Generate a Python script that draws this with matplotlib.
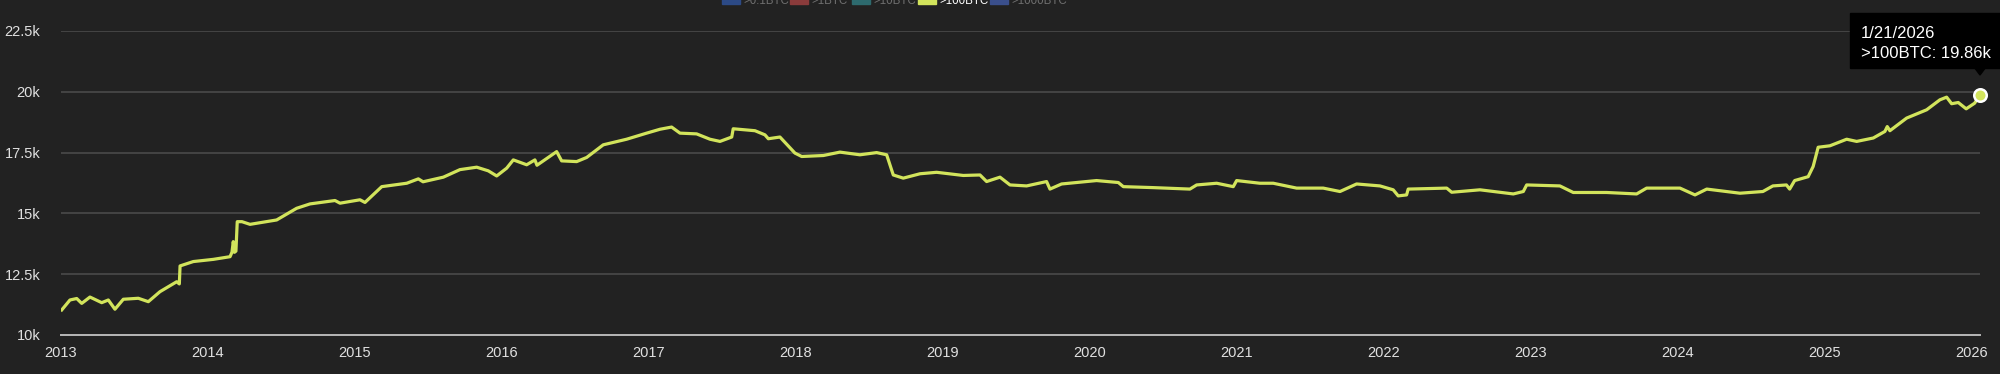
import matplotlib
matplotlib.use("Agg")
import matplotlib.pyplot as plt
from matplotlib.patches import Rectangle, Polygon
from matplotlib.ticker import FuncFormatter

plt.rcParams['font.family'] = ['Liberation Sans', 'DejaVu Sans']

# decimal year / number of addresses holding >100 BTC (thousands)
years = [2013.005, 2013.061, 2013.107, 2013.141, 2013.197, 2013.277, 2013.322, 2013.367,
         2013.424, 2013.526, 2013.594, 2013.673, 2013.787, 2013.805, 2013.810, 2013.900,
         2014.036, 2014.150, 2014.163, 2014.172, 2014.180, 2014.190, 2014.199, 2014.231,
         2014.286, 2014.467, 2014.603, 2014.694, 2014.864, 2014.898, 2015.034, 2015.068,
         2015.182, 2015.352, 2015.431, 2015.463, 2015.601, 2015.714, 2015.828, 2015.907,
         2015.964, 2016.032, 2016.077, 2016.168, 2016.224, 2016.238, 2016.372, 2016.406,
         2016.508, 2016.576, 2016.689, 2016.848, 2016.984, 2017.075, 2017.154, 2017.211,
         2017.324, 2017.415, 2017.483, 2017.563, 2017.573, 2017.721, 2017.789, 2017.812,
         2017.891, 2017.993, 2018.039, 2018.186, 2018.299, 2018.435, 2018.549, 2018.617,
         2018.662, 2018.730, 2018.844, 2018.957, 2019.138, 2019.252, 2019.297, 2019.388,
         2019.456, 2019.569, 2019.705, 2019.728, 2019.807, 2020.045, 2020.193, 2020.227,
         2020.431, 2020.680, 2020.726, 2020.862, 2020.975, 2020.998, 2021.156, 2021.247,
         2021.406, 2021.587, 2021.701, 2021.814, 2021.973, 2022.063, 2022.097, 2022.154,
         2022.165, 2022.427, 2022.461, 2022.653, 2022.880, 2022.948, 2022.971, 2023.197,
         2023.288, 2023.515, 2023.719, 2023.787, 2024.014, 2024.116, 2024.196, 2024.422,
         2024.578, 2024.646, 2024.738, 2024.760, 2024.794, 2024.886, 2024.920, 2024.954,
         2025.034, 2025.148, 2025.216, 2025.329, 2025.408, 2025.424, 2025.442, 2025.556,
         2025.692, 2025.782, 2025.828, 2025.862, 2025.907, 2025.961, 2026.018, 2026.055]
holders_k = [11.03, 11.44, 11.50, 11.30, 11.56, 11.33, 11.44, 11.06,
             11.47, 11.51, 11.37, 11.78, 12.19, 12.10, 12.84, 13.02,
             13.11, 13.22, 13.40, 13.84, 13.40, 13.45, 14.66, 14.66,
             14.55, 14.73, 15.21, 15.39, 15.53, 15.42, 15.56, 15.45,
             16.10, 16.24, 16.42, 16.30, 16.49, 16.80, 16.90, 16.75,
             16.54, 16.86, 17.20, 17.00, 17.20, 16.98, 17.54, 17.16,
             17.13, 17.30, 17.82, 18.05, 18.30, 18.46, 18.55, 18.30,
             18.27, 18.05, 17.96, 18.14, 18.48, 18.40, 18.23, 18.07,
             18.14, 17.48, 17.34, 17.38, 17.52, 17.41, 17.50, 17.41,
             16.58, 16.45, 16.63, 16.69, 16.56, 16.58, 16.31, 16.49,
             16.17, 16.13, 16.31, 16.00, 16.21, 16.35, 16.27, 16.10,
             16.06, 16.00, 16.17, 16.24, 16.10, 16.35, 16.24, 16.24,
             16.04, 16.04, 15.90, 16.21, 16.13, 15.97, 15.72, 15.76,
             16.00, 16.04, 15.87, 15.97, 15.80, 15.90, 16.17, 16.13,
             15.86, 15.86, 15.80, 16.04, 16.04, 15.76, 16.00, 15.83,
             15.90, 16.13, 16.17, 16.00, 16.35, 16.51, 16.93, 17.72,
             17.78, 18.05, 17.96, 18.10, 18.37, 18.57, 18.40, 18.92,
             19.26, 19.67, 19.78, 19.51, 19.56, 19.30, 19.53, 19.86]

year_ticks = list(range(2013, 2027))
y_ticks = [10, 12.5, 15, 17.5, 20, 22.5]

legend_names = [">0.1BTC", ">1BTC", ">10BTC", ">100BTC", ">1000BTC"]
legend_colors = ["#2c4a86", "#8a3b3b", "#2d6a6e", "#d2e45c", "#3a4f8c"]
legend_text_colors = ["#6f6f6f", "#6f6f6f", "#6f6f6f", "#ffffff", "#6f6f6f"]

bg = "#222222"
line_color = "#d2e45c"

W, H = 2000, 374
fig = plt.figure(figsize=(W / 100, H / 100), dpi=100, facecolor=bg)
ax = fig.add_axes([61 / W, 1 - 335 / H, (1980 - 61) / W, (335 - 31) / H])
ax.set_facecolor(bg)

ax.plot(years, holders_k, color=line_color, lw=2.3, solid_joinstyle="round")

ax.set_xlim(2013.0, 2026.055)
ax.set_ylim(10, 22.5)
ax.set_xticks(year_ticks)
ax.set_xticklabels([str(y) for y in year_ticks])
ax.set_yticks(y_ticks)
ax.yaxis.set_major_formatter(FuncFormatter(lambda v, p: f"{v:g}k"))
ax.tick_params(axis="both", length=0, colors="#e0e0e0", labelsize=10.5)
ax.tick_params(axis="y", pad=15)
ax.tick_params(axis="x", pad=8)
for s in ax.spines.values():
    s.set_visible(False)
for v in y_ticks[1:]:
    ax.axhline(v, color="#4a4a4a", lw=1.2, zorder=0)
ax.axhline(10, color="#b8b8b8", lw=1.4, zorder=1, clip_on=False)

# hover marker
last_x, last_y = years[-1], holders_k[-1]
ax.plot([last_x], [last_y], "o", ms=9, mfc=line_color, mec="white", mew=1.8,
        clip_on=False, zorder=5)

# tooltip box
fig.add_artist(Rectangle((1850 / W, 1 - 68 / H), 150 / W, 55 / H,
                         transform=fig.transFigure, color="black", zorder=10))
fig.add_artist(Polygon([[1974 / W, 1 - 67 / H], [1986 / W, 1 - 67 / H], [1980 / W, 1 - 75 / H]],
                       closed=True, transform=fig.transFigure, color="black", zorder=10))
fig.text(1861 / W, 1 - 33 / H, "1/21/2026", color="white", fontsize=12,
         va="center", ha="left", zorder=11)
fig.text(1861 / W, 1 - 53 / H, f">100BTC: {last_y:.2f}k", color="white", fontsize=12,
         va="center", ha="left", zorder=11)

# legend, cut off at the top edge as in the source
legend_x = [722, 790, 852, 918, 990]
for name, c, tc, lx in zip(legend_names, legend_colors, legend_text_colors, legend_x):
    fig.add_artist(Rectangle((lx / W, 1 - 4 / H), 18 / W, 10 / H,
                             transform=fig.transFigure, color=c))
    fig.text((lx + 21) / W, 1 - 4 / H, name, color=tc, fontsize=8.3,
             va="baseline", ha="left")

fig.savefig("out.png", dpi=100, facecolor=bg)
